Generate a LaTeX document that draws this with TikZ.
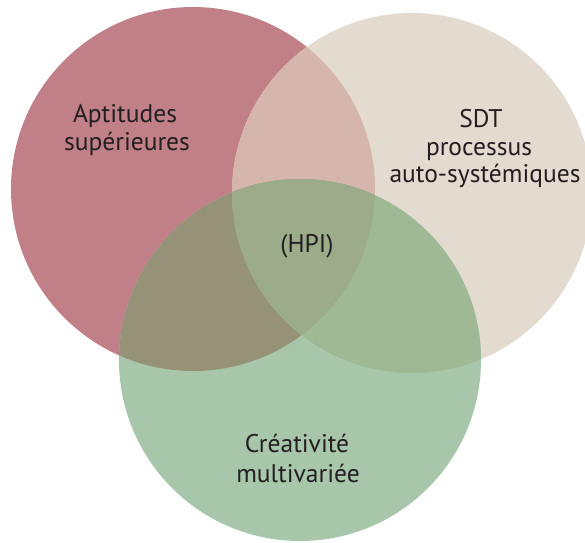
\documentclass[tikz,border=0pt]{standalone}
\usepackage{fontspec}
\setmainfont{PT Sans}
\definecolor{cR}{RGB}{193,127,135}
\definecolor{cB}{RGB}{227,218,208}
\definecolor{cG}{RGB}{168,198,170}
\definecolor{cRB}{RGB}{214,182,172}
\definecolor{cRG}{RGB}{150,146,120}
\definecolor{cBG}{RGB}{159,185,149}
\definecolor{cRBG}{RGB}{156,171,138}
\definecolor{txt}{RGB}{35,31,32}
\tikzset{lbl/.style={anchor=base, inner sep=0pt, text=txt, font=\fontsize{25.5}{29}\selectfont}}
\begin{document}
\begin{tikzpicture}[x=1pt,y=-1pt]
\useasboundingbox (0,0) rectangle (585,542);
\def\red{(193,189) circle[radius=182]}
\def\beige{(412,193) circle[radius=180]}
\def\green{(300,360) circle[radius=181]}
\fill[cR] \red;
\fill[cB] \beige;
\begin{scope}\clip \red; \fill[cRB] \beige; \end{scope}
\fill[cG] \green;
\begin{scope}\clip \green; \fill[cRG] \red; \end{scope}
\begin{scope}\clip \green; \fill[cBG] \beige; \end{scope}
\begin{scope}\clip \green; \clip \red; \fill[cRBG] \beige; \end{scope}
\node[lbl] (a1) at (125,122) {Aptitudes};
\node[lbl] (a2) at (127,150) {supérieures};
\node[lbl] (s1) at (481,127) {SDT};
\node[lbl] (s2) at (479,155) {processus};
\node[lbl] (s3) at (485,182) {auto-systémiques};
\node[lbl] (h) at (307,252) {(HPI)};
\node[lbl] (c1) at (297,452) {Créativité};
\node[lbl] (c2) at (298,482) {multivariée};
\end{tikzpicture}
\end{document}
